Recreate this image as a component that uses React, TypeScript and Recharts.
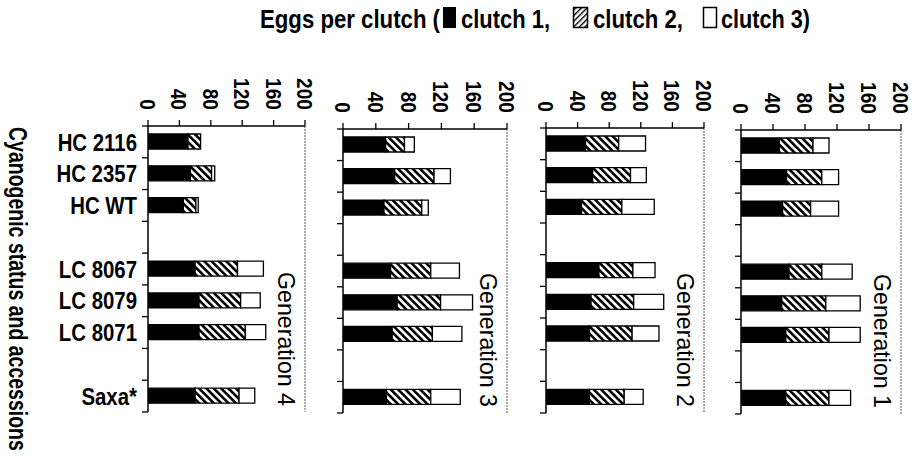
import React from 'react';
import { BarChart, Bar, XAxis, YAxis, ReferenceLine } from 'recharts';

const categories = ['HC 2116', 'HC 2357', 'HC WT', '', 'LC 8067', 'LC 8079', 'LC 8071', ' ', 'Saxa*'];
const xTicks = [0, 40, 80, 120, 160, 200];

const gen4Clutch1 = [51, 54, 45, null, 60, 65, 65, null, 60];
const gen4Clutch2 = [16, 27, 16, null, 54, 53, 59, null, 56];
const gen4Clutch3 = [0, 4, 3, null, 33, 25, 26, null, 20];

const gen3Clutch1 = [52, 63, 50, null, 58, 66, 60, null, 53];
const gen3Clutch2 = [23, 48, 46, null, 49, 53, 49, null, 54];
const gen3Clutch3 = [12, 20, 8, null, 35, 39, 36, null, 36];

const gen2Clutch1 = [50, 59, 45, null, 67, 57, 55, null, 55];
const gen2Clutch2 = [42, 48, 51, null, 43, 54, 54, null, 44];
const gen2Clutch3 = [34, 20, 41, null, 28, 38, 34, null, 24];

const gen1Clutch1 = [48, 57, 52, null, 60, 51, 56, null, 56];
const gen1Clutch2 = [42, 44, 35, null, 41, 55, 54, null, 54];
const gen1Clutch3 = [20, 21, 35, null, 38, 43, 39, null, 27];

const generations = [
  { label: 'Generation 4', c1: gen4Clutch1, c2: gen4Clutch2, c3: gen4Clutch3 },
  { label: 'Generation 3', c1: gen3Clutch1, c2: gen3Clutch2, c3: gen3Clutch3 },
  { label: 'Generation 2', c1: gen2Clutch1, c2: gen2Clutch2, c3: gen2Clutch3 },
  { label: 'Generation 1', c1: gen1Clutch1, c2: gen1Clutch2, c3: gen1Clutch3 },
];

// layout (pixels)
const layout = [
  { left: 148, right: 305, top: 126, bottom: 412, yAxisWidth: 148, labels: true },
  { left: 343, right: 507, top: 129, bottom: 413, yAxisWidth: 20, labels: false },
  { left: 546, right: 704, top: 128, bottom: 413, yAxisWidth: 20, labels: false },
  { left: 741, right: 901, top: 130, bottom: 414, yAxisWidth: 20, labels: false },
];

const FONT = '"Liberation Sans", Arial, Helvetica, sans-serif';
const H = 459;
const X_AXIS_H = 40;
const RIGHT_PAD = 12;

const XTick = (props: any) => {
  const { x, y, payload } = props;
  return (
    <text
      x={0}
      y={0}
      transform={`translate(${x},${y}) rotate(90) scale(0.87,1)`}
      textAnchor="end"
      dy="0.36em"
      fontSize={22}
      fontWeight="bold"
      fontFamily={FONT}
      fill="#000"
    >
      {payload.value}
    </text>
  );
};

const makeYTick = (showLabels: boolean, band: number) => (props: any) => {
  const { x, y, payload, index } = props;
  const half = band / 2;
  const label = String(payload.value).trim();
  return (
    <g>
      <line x1={x - 6} x2={x} y1={y - half} y2={y - half} stroke="#000" strokeWidth={1.3} />
      {index === categories.length - 1 && (
        <line x1={x - 6} x2={x} y1={y + half} y2={y + half} stroke="#000" strokeWidth={1.3} />
      )}
      {showLabels && label && (
        <text
          x={0}
          y={0}
          transform={`translate(${x - 11},${y}) scale(0.85,1)`}
          textAnchor="end"
          dy="0.36em"
          fontSize={24}
          fontWeight="bold"
          fontFamily={FONT}
          fill="#000"
        >
          {label}
        </text>
      )}
    </g>
  );
};

const Panel = ({ gen, lay }: any) => {
  const data = categories.map((name, i) => ({ name, c1: gen.c1[i], c2: gen.c2[i], c3: gen.c3[i] }));
  const divLeft = lay.left - lay.yAxisWidth;
  const width = lay.right - divLeft + RIGHT_PAD;
  const band = (lay.bottom - lay.top) / categories.length;
  return (
    <div style={{ position: 'absolute', left: divLeft, top: 0 }}>
      <BarChart
        layout="vertical"
        width={width}
        height={H}
        data={data}
        barCategoryGap={0}
        margin={{ top: lay.top - X_AXIS_H, bottom: H - lay.bottom, left: 0, right: RIGHT_PAD }}
      >
        <XAxis
          type="number"
          orientation="top"
          domain={[0, 200]}
          ticks={xTicks}
          interval={0}
          height={X_AXIS_H}
          tickSize={6}
          tickMargin={10}
          tick={<XTick />}
          axisLine={{ stroke: '#000', strokeWidth: 1.5 }}
          tickLine={{ stroke: '#000', strokeWidth: 1.3 }}
          allowDataOverflow
        />
        <XAxis
          xAxisId="bottom"
          type="number"
          orientation="bottom"
          domain={[0, 200]}
          height={0}
          tick={false}
          tickLine={false}
          axisLine={{ stroke: '#555', strokeWidth: 1, strokeDasharray: '2 1' }}
        />
        <YAxis
          type="category"
          dataKey="name"
          width={lay.yAxisWidth}
          interval={0}
          tickSize={0}
          tickMargin={0}
          tickLine={false}
          tick={makeYTick(lay.labels, band)}
          axisLine={{ stroke: '#000', strokeWidth: 1.5 }}
        />
        <ReferenceLine x={200} stroke="#555" strokeWidth={1} strokeDasharray="2 1" ifOverflow="visible" />
        <Bar dataKey="c1" stackId="s" fill="#000" stroke="#000" strokeWidth={1.3} barSize={15} isAnimationActive={false} />
        <Bar dataKey="c2" stackId="s" fill="url(#hatchBar)" stroke="#000" strokeWidth={1.3} barSize={15} isAnimationActive={false} />
        <Bar dataKey="c3" stackId="s" fill="#fff" stroke="#000" strokeWidth={1.3} barSize={15} isAnimationActive={false} />
      </BarChart>
    </div>
  );
};

export default function App() {
  return (
    <div style={{ position: 'absolute', left: 0, top: 0, width: 913, height: H, background: '#fff', overflow: 'hidden' }}>
      <svg width={0} height={0} style={{ position: 'absolute' }}>
        <defs>
          <pattern id="hatchBar" patternUnits="userSpaceOnUse" width={5.2} height={5.2} patternTransform="rotate(-45)">
            <rect x={0} y={0} width={5.2} height={5.2} fill="#fff" />
            <rect x={0} y={0} width={2.6} height={5.2} fill="#000" />
          </pattern>
          <pattern id="hatchLegend" patternUnits="userSpaceOnUse" width={4} height={4} patternTransform="rotate(45)">
            <rect x={0} y={0} width={4} height={4} fill="#fff" />
            <rect x={0} y={0} width={1.4} height={4} fill="#000" />
          </pattern>
        </defs>
      </svg>
      {generations.map((g, i) => (
        <Panel key={g.label} gen={g} lay={layout[i]} />
      ))}
      <svg width={913} height={H} style={{ position: 'absolute', left: 0, top: 0, pointerEvents: 'none' }}>
        <g fontFamily={FONT} fontWeight="bold" fontSize={25} fill="#000">
          <text x={260} y={28} textLength={180} lengthAdjust="spacingAndGlyphs">Eggs per clutch (</text>
          <rect x={443} y={7} width={13} height={21} fill="#000" />
          <text x={461} y={28} textLength={89} lengthAdjust="spacingAndGlyphs">clutch 1,</text>
          <rect x={573.5} y={7.5} width={14} height={20} fill="url(#hatchLegend)" stroke="#000" strokeWidth={1.5} />
          <text x={593} y={28} textLength={90} lengthAdjust="spacingAndGlyphs">clutch 2,</text>
          <rect x={703.5} y={7.5} width={13} height={20} fill="#fff" stroke="#000" strokeWidth={1.5} />
          <text x={721} y={28} textLength={89} lengthAdjust="spacingAndGlyphs">clutch 3)</text>
          <text x={0} y={0} transform="translate(8.5,127) rotate(90) scale(0.78,1)">
            Cyanogenic status and accessions
          </text>
        </g>
        {generations.map((g, i) => (
          <text
            key={g.label}
            x={0}
            y={0}
            transform={`translate(${layout[i].right - 27},${layout[i].bottom - 6}) rotate(90)`}
            textAnchor="end"
            fontFamily={FONT}
            fontSize={24}
            textLength={134}
            lengthAdjust="spacingAndGlyphs"
            fill="#000"
          >
            {g.label}
          </text>
        ))}
      </svg>
    </div>
  );
}
